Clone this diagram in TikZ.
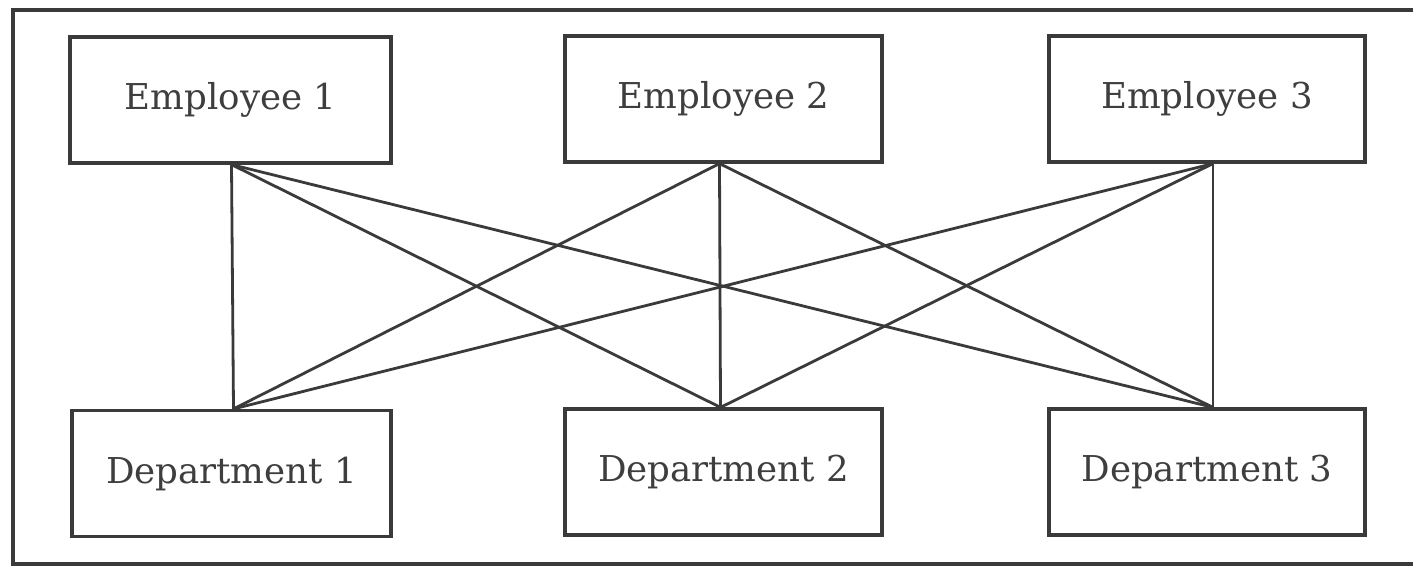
\documentclass[tikz,border=0pt]{standalone}
\usepackage{fontspec}
\setmainfont{DejaVu Serif}
\usetikzlibrary{calc}
\definecolor{ink}{HTML}{3A3A3A}
\definecolor{txt}{HTML}{3E3E3E}
\begin{document}
\begin{tikzpicture}[x=0.5pt,y=-0.5pt,
  box/.style={draw=ink,line width=1.6pt,inner sep=0pt,minimum height=63pt,
    text=txt,font=\fontsize{17.8pt}{20pt}\selectfont},
  link/.style={draw=ink,line width=1.4pt}]
\useasboundingbox (0,0) rectangle (1413,566);
\clip (0,0) rectangle (1413,566);
% outer frame (right side runs off the picture)
\draw[ink,line width=1.6pt] (1430,10) -- (13,10) -- (13,564) -- (1430,564);
% boxes
\node[box,minimum width=160.5pt] (e1) at (230.5,100) {Employee 1};
\node[box,minimum width=158.5pt] (e2) at (723.5,99) {Employee 2};
\node[box,minimum width=158pt] (e3) at (1207,99) {Employee 3};
\node[box,minimum width=159.5pt] (d1) at (231.5,473.5) {Department 1};
\node[box,minimum width=158.5pt] (d2) at (723.5,472) {Department 2};
\node[box,minimum width=158pt] (d3) at (1207,472) {Department 3};
% junction points
\coordinate (t1) at ($(e1.south)+(1,0)$);
\coordinate (t2) at ($(e2.south)+(-4,0)$);
\coordinate (t3) at ($(e3.south)+(6,0)$);
\coordinate (b1) at ($(d1.north)+(2,0)$);
\coordinate (b2) at ($(d2.north)+(-3,0)$);
\coordinate (b3) at ($(d3.north)+(6,0)$);
% connectors
\foreach \i in {1,2,3}{
  \foreach \j in {1,2,3}{
    \draw[link] (t\i) -- (b\j);
  }
}
\end{tikzpicture}
\end{document}
